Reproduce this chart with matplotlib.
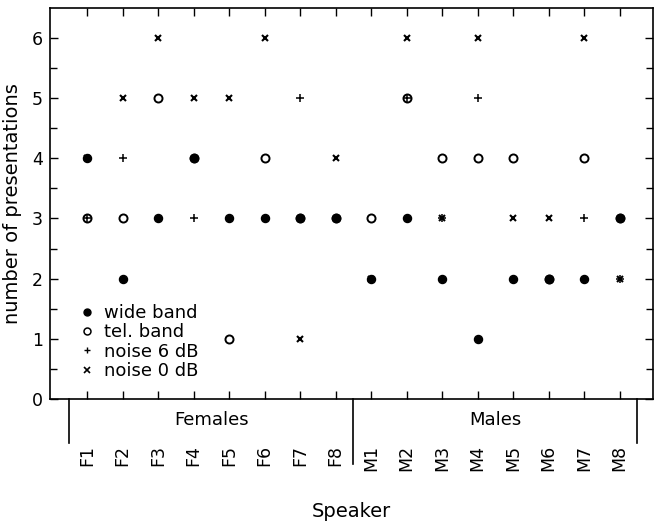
import matplotlib
matplotlib.use("Agg")
import matplotlib.pyplot as plt
from matplotlib.lines import Line2D

plt.rcParams['font.family'] = ['DejaVu Sans']

# speakers and number of presentations per condition
speakers = ['F1', 'F2', 'F3', 'F4', 'F5', 'F6', 'F7', 'F8',
            'M1', 'M2', 'M3', 'M4', 'M5', 'M6', 'M7', 'M8']
wide_band = [4, 2, 3, 4, 3, 3, 3, 3, 2, 3, 2, 1, 2, 2, 2, 3]
tel_band = [3, 3, 5, 4, 1, 4, 3, 3, 3, 5, 4, 4, 4, 2, 4, 3]
noise_6db = [3, 4, 3, 3, 3, 3, 5, 3, 2, 5, 3, 5, 2, 2, 3, 2]
noise_0db = [4, 5, 6, 5, 5, 6, 1, 4, 2, 6, 3, 6, 3, 3, 6, 2]
groups = ['Females', 'Males']

x = list(range(1, len(speakers) + 1))

fig = plt.figure(figsize=(6.55, 5.25), dpi=100)
ax = fig.add_axes([0.0763, 0.24, 0.921, 0.745])

ax.plot(x, wide_band, 'o', color='black', markersize=5.8, linestyle='none')
ax.plot(x, tel_band, 'o', markerfacecolor='none', markeredgecolor='black',
        markeredgewidth=1.4, markersize=5.8, linestyle='none')
ax.plot(x, noise_6db, '+', color='black', markersize=5.5, markeredgewidth=1.1, linestyle='none')
ax.plot(x, noise_0db, 'x', color='black', markersize=4.2, markeredgewidth=1.5, linestyle='none')

ax.set_xlim(-0.05, 16.95)
ax.set_ylim(0, 6.5)
ax.set_yticks(range(0, 7))
ax.set_yticks([i + 0.5 for i in range(0, 6)], minor=True)
ax.set_xticks(x)
ax.set_xticklabels(speakers, rotation=90, fontsize=12.5)
ax.tick_params(axis='x', direction='in', top=True, length=6, width=1, pad=33)
ax.tick_params(axis='y', which='both', direction='in', right=True, width=1, labelsize=12.5, pad=5)
ax.tick_params(axis='y', which='major', length=6)
ax.tick_params(axis='y', which='minor', length=5)
for sp in ax.spines.values():
    sp.set_linewidth(1.2)

# group separators and labels below the axis
n = len(speakers) // len(groups)
bounds = [0.5 + i * n for i in range(len(groups) + 1)]
for i, b in enumerate(bounds):
    depth = 0.166 if 0 < i < len(groups) else 0.113
    ax.plot([b, b], [0, -depth], color='black', lw=1.2, clip_on=False,
            transform=ax.get_xaxis_transform())
for i, g in enumerate(groups):
    ax.text((bounds[i] + bounds[i + 1]) / 2, -0.054, g, ha='center', va='center',
            fontsize=13, transform=ax.get_xaxis_transform())

ax.set_xlabel('Speaker', fontsize=14, labelpad=22)
ax.set_ylabel('number of presentations', fontsize=14, labelpad=7)

handles = [
    Line2D([], [], marker='o', color='black', linestyle='none', markersize=5),
    Line2D([], [], marker='o', markerfacecolor='none', markeredgecolor='black',
           markeredgewidth=1.1, linestyle='none', markersize=5),
    Line2D([], [], marker='+', color='black', linestyle='none', markersize=5),
    Line2D([], [], marker='x', color='black', linestyle='none', markersize=4, markeredgewidth=1.2),
]
ax.legend(handles, ['wide band', 'tel. band', 'noise 6 dB', 'noise 0 dB'],
          loc='lower left', bbox_to_anchor=(0.05, 0.048), frameon=False,
          fontsize=13, handlelength=0.8, handletextpad=0.5, labelspacing=0.08,
          borderpad=0, borderaxespad=0)

fig.savefig('out.png', dpi=100)
